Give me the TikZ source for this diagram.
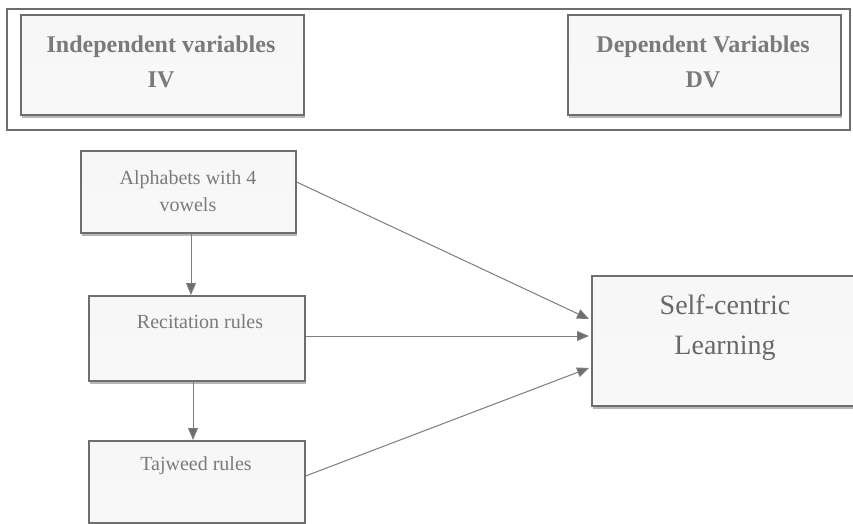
\documentclass[tikz,border=0pt]{standalone}
\usepackage{fontspec}
\setmainfont{Liberation Serif}
\usetikzlibrary{arrows.meta,shadows}
\definecolor{edge}{HTML}{6E6E6E}
\definecolor{txt}{HTML}{7A7A7A}
\definecolor{boxfill}{HTML}{F2F2F2}
\begin{document}
\begin{tikzpicture}[x=1pt,y=-1pt,
  boxstyle/.style={draw=edge,line width=1.6pt,top color=boxfill!60!white,bottom color=boxfill!80!gray!20,
    drop shadow={shadow xshift=1.5pt,shadow yshift=-3pt,fill=gray!70,opacity=0.8},
    inner sep=0pt,anchor=north west},
  labelstyle/.style={text=txt,align=center,inner sep=0pt},
  headtext/.style={labelstyle,font=\bfseries\fontsize{24}{35}\selectfont},
  smalltext/.style={labelstyle,font=\fontsize{20}{27}\selectfont},
  bigtext/.style={labelstyle,text=txt!85!black,font=\fontsize{28}{40}\selectfont},
  conn/.style={draw=edge!90,line width=1pt,-{Triangle[length=12pt,width=10pt,fill=edge]}}]
\useasboundingbox (0,0) rectangle (853,524);
\clip (0,0) rectangle (853,524);
\fill[white] (0,0) rectangle (853,524);
% outer frame
\draw[draw=edge,line width=1.3pt,fill=white] (7,9) rectangle (850,130);
% header boxes
\node[boxstyle,minimum width=283pt,minimum height=100pt] (iv) at (20,14) {};
\node[headtext] (ivt) at (161,62) {Independent variables\\IV};
\node[boxstyle,minimum width=273pt,minimum height=100pt] (dv) at (567,14) {};
\node[headtext] (dvt) at (703,62) {Dependent Variables\\DV};
% IV boxes
\node[boxstyle,minimum width=215pt,minimum height=82pt] (alpha) at (80,150) {};
\node[smalltext] (alphat) at (188,191) {Alphabets with 4\\vowels};
\node[boxstyle,minimum width=216pt,minimum height=85pt] (recit) at (88,295) {};
\node[smalltext] (recitt) at (200,322) {Recitation rules};
\node[boxstyle,minimum width=216pt,minimum height=82pt] (tajw) at (88,440) {};
\node[smalltext] (tajwt) at (196,466) {Tajweed rules};
% DV box
\node[boxstyle,minimum width=280pt,minimum height=130pt] (self) at (591,275) {};
\node[bigtext] (selft) at (725,328) {Self-centric\\Learning};
% connectors
\coordinate (t1) at (589,319);
\coordinate (t2) at (589,336);
\coordinate (t3) at (589,368);
\draw[conn] (alpha.east |- 0,182) -- (t1);
\draw[conn] (recit.east |- 0,336) -- (t2);
\draw[conn] (tajw.east |- 0,476) -- (t3);
\draw[conn] (alpha.south -| 191,0) -- (recit.north -| 191,0);
\draw[conn] (recit.south -| 193,0) -- (tajw.north -| 193,0);
\end{tikzpicture}
\end{document}
